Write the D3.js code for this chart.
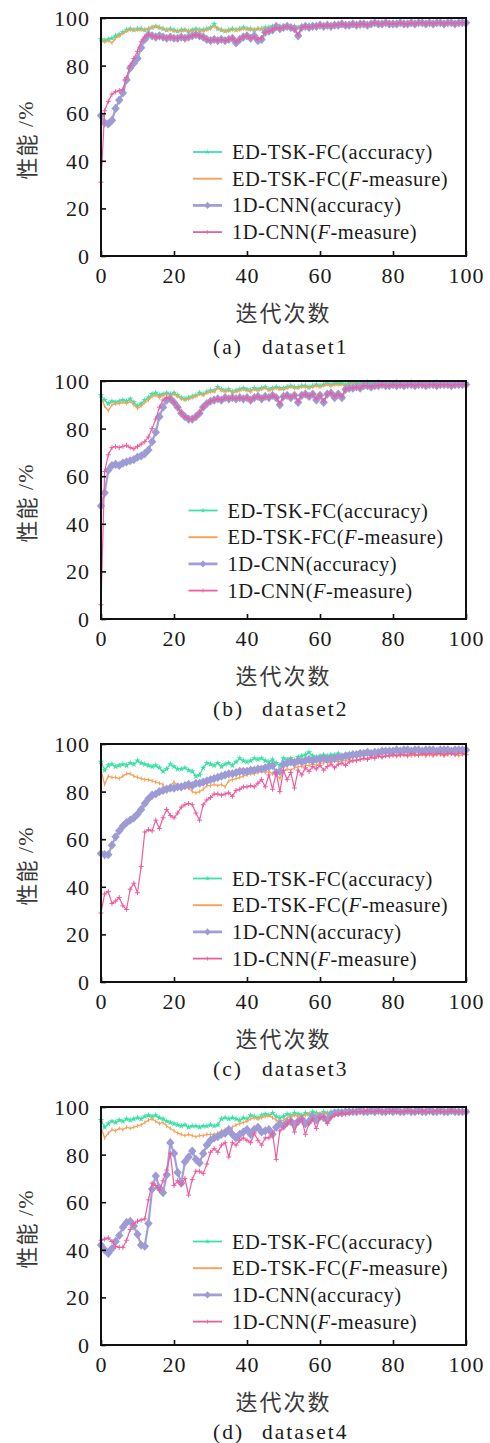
<!DOCTYPE html>
<html>
<head>
<meta charset="utf-8">
<script src="https://cdn.jsdelivr.net/npm/d3@7"></script>
<style>
body { margin: 0; background: #fff; }
svg { display: block; }
.tick line { stroke: #111; stroke-width: 1.6; }
.legend text { font-family: "Liberation Serif", "Times New Roman", serif; font-size: 20.5px; letter-spacing: 0.5px; fill: #1a1a1a; }
.cap { font-family: "Liberation Serif", "Times New Roman", serif; font-size: 21.5px; letter-spacing: 2px; fill: #1a1a1a; }
.cjk { font-family: "Noto Sans CJK SC", sans-serif; font-size: 22px; letter-spacing: 2px; fill: #3a3a3a; }
</style>
</head>
<body>
<div id="chart"></div>
<script>
// series names, ticks and captions
const seriesNames = ["ED-TSK-FC(accuracy)", "ED-TSK-FC(F-measure)", "1D-CNN(accuracy)", "1D-CNN(F-measure)"];
const xTicks = [0, 20, 40, 60, 80, 100];
const yTicks = [0, 20, 40, 60, 80, 100];
const captionTags = ["(a)", "(b)", "(c)", "(d)"];
const datasetNames = ["dataset1", "dataset2", "dataset3", "dataset4"];
const xLabel = "迭代次数";
const yLabel = "性能/%";

// dataset1 (iteration 0..100)
const d1TskAcc = [
91, 90.5, 91, 91.5, 92.5, 93, 94, 95, 95.5, 95,
95.5, 95.5, 95, 95.5, 96, 96.5, 96, 95.5, 95, 95.5,
95, 94.5, 95, 95, 94.5, 95, 95.5, 95, 95, 95.5,
96, 97.5, 95.5, 95, 94.5, 95, 95.5, 95, 95.5, 96,
95.5, 95.5, 95, 95.5, 95.5, 96, 96, 96.5, 96, 96.5,
96, 96.5, 96, 96.5, 96, 96.5, 96.5, 97, 96.5, 96.5,
97, 97, 96.5, 97, 97, 97.5, 97, 97, 97.5, 97,
97.5, 97.5, 97, 97.5, 97.5, 98, 97.5, 97.5, 98, 97.5,
97.5, 98, 97.5, 98, 97.5, 97.5, 98, 98, 97.5, 98,
97.5, 98, 98, 97.5, 98, 98, 98, 97.5, 98, 98,
97.5];
const d1TskF = [
90.5, 90, 90.5, 89.5, 91.5, 92.5, 93.5, 94.5, 95, 95,
95, 95, 95, 95.5, 96, 96.5, 96, 95.5, 95, 95,
94.5, 94.5, 94.5, 95, 94.5, 94.5, 95, 95, 94.5, 95,
95.5, 96.5, 95.5, 95, 94.5, 94.5, 95, 95, 95, 95.5,
95.5, 95, 95, 95.5, 95.5, 95.5, 96, 96, 96, 96.5,
96, 96, 96, 96.5, 96, 96.5, 96, 96.5, 96.5, 96.5,
97, 96.5, 96.5, 97, 97, 97, 97, 97, 97, 97,
97.5, 96, 97, 97.5, 97.5, 97.5, 97.5, 97.5, 97.5, 97,
97.5, 97.5, 97.5, 97.5, 97, 97.5, 97.5, 97.5, 97.5, 97.5,
97.5, 97.5, 97.5, 97.5, 97.5, 97.5, 98, 97.5, 97.5, 97.5,
97.5];
const d1CnnAcc = [
59, 56, 55.5, 57, 62, 65.5, 68.5, 74, 79, 81,
83, 87.5, 91, 93, 92.5, 92, 92.5, 92, 91.5, 92,
91.5, 91.5, 92, 91.5, 92, 92.5, 93, 92.5, 92, 91,
90.5, 91, 90.5, 91, 90.5, 91, 91.5, 89.5, 91, 92,
92.5, 91.5, 92.5, 90.5, 91, 94, 94.5, 95, 96.5, 95.5,
96, 96.5, 96, 95.5, 92.5, 96, 96.5, 96, 96.5, 96.5,
97, 96.5, 97, 96.5, 97, 97, 97.5, 97, 97, 97.5,
97, 97.5, 97.5, 97, 97.5, 98, 97.5, 97.5, 98, 97.5,
97.5, 97.5, 98, 97.5, 97.5, 98, 97.5, 98, 98, 97.5,
98, 97.5, 98, 98, 97.5, 98, 98, 97.5, 98, 98,
98];
const d1CnnF = [
31, 61, 65, 68, 69, 69.5, 70, 75, 80, 83,
86, 90, 92, 93, 92.5, 92, 92, 92, 91.5, 92,
91.5, 91.5, 92, 91.5, 92, 92.5, 93, 92.5, 92, 91,
90.5, 91, 90.5, 91, 90.5, 91, 91.5, 90, 91, 92,
92.5, 91.5, 92, 91, 91.5, 94, 94.5, 95, 96, 95.5,
96, 96.5, 96, 95.5, 93, 96, 96.5, 96, 96.5, 96.5,
97, 96.5, 97, 96.5, 97, 97, 97.5, 97, 97, 97.5,
97, 97.5, 97.5, 97, 97.5, 98, 97.5, 97.5, 98, 97.5,
97.5, 97.5, 98, 97.5, 97.5, 98, 97.5, 98, 98, 97.5,
98, 97.5, 98, 98, 97.5, 98, 98, 97.5, 98, 98,
98];

// dataset2
const d2TskAcc = [
94, 92, 90.5, 91.5, 91, 91.5, 92, 91.5, 92.5, 91,
89.5, 90.5, 92, 93, 94.5, 95, 94, 94.5, 95, 94.5,
95, 94, 93, 92.5, 93, 93.5, 94, 95, 94.5, 95.5,
96, 96, 97.5, 96.5, 96, 96.5, 95.5, 96, 96.5, 97,
96.5, 96, 97, 96.5, 97, 97.5, 96.5, 97, 97.5, 97,
97, 97.5, 98, 97.5, 97.5, 98, 98, 97.5, 98, 98.5,
98, 98.5, 99, 98.5, 99, 99, 99, 98.5, 99, 99,
99, 99, 99, 99.5, 99, 99, 99.5, 99, 99, 99,
99, 99.5, 99, 99, 99, 99.5, 99, 99, 99, 99,
99, 99, 99.5, 99, 99, 99, 99, 99, 99, 99,
99];
const d2TskF = [
93, 89.5, 87.5, 90, 90.5, 90.5, 91, 90.5, 91.5, 90,
88.5, 89.5, 91, 92, 93.5, 94, 93, 94, 94.5, 94,
94.5, 93.5, 92.5, 92, 92.5, 93, 93.5, 94.5, 94, 95,
95.5, 95.5, 97, 96, 95.5, 96, 95, 95.5, 96, 96.5,
96, 95.5, 96.5, 96, 96.5, 97, 96, 96.5, 97, 96.5,
96.5, 97, 97.5, 97, 97, 97.5, 97.5, 97, 97.5, 98,
97.5, 98, 98.5, 98, 98.5, 98.5, 98.5, 98, 98.5, 99,
98.5, 98.5, 99, 99, 98.5, 99, 99, 98.5, 99, 99,
98.5, 99, 99, 98.5, 99, 99, 98.5, 99, 99, 98.5,
99, 99, 99, 98.5, 99, 99, 98.5, 99, 99, 99,
99];
const d2CnnAcc = [
47.5, 53, 62.5, 64.5, 65, 64.5, 65.5, 66, 66.5, 67,
68, 68.5, 69.5, 71, 74.5, 78.5, 85, 89, 92, 92.5,
91, 89, 86.5, 85, 84, 84, 85, 86.5, 89, 90.5,
91.5, 92, 92.5, 92, 93, 92.5, 93, 92.5, 93, 92.5,
93, 92, 93, 93.5, 92.5, 93.5, 93, 94, 93, 90,
93.5, 94, 93, 94, 91, 94, 94.5, 93.5, 94.5, 92,
94, 91, 94.5, 95, 93, 94.5, 93, 96.5, 97, 97,
97.5, 97, 98, 98, 97.5, 98, 98, 98.5, 98, 98,
98.5, 98, 98.5, 98, 98.5, 98.5, 98, 98.5, 98.5, 98,
98.5, 98.5, 98, 98.5, 98.5, 98.5, 98, 98.5, 98.5, 98.5,
98.5];
const d2CnnF = [
6, 62, 69, 72, 72.5, 72, 72.5, 73, 72, 71.5,
72.5, 73.5, 74.5, 76.5, 80, 84, 89, 92, 93, 92.5,
91, 89, 86.5, 85, 84, 84, 85, 86.5, 89, 90.5,
91.5, 92, 92.5, 92, 93, 92.5, 93, 92.5, 93, 92.5,
93, 92, 93, 93.5, 92.5, 93.5, 93, 94, 93, 90.5,
93.5, 94, 93, 94, 91.5, 94, 94.5, 93.5, 94.5, 92.5,
94, 91.5, 94.5, 95, 93.5, 94.5, 93.5, 96.5, 97, 97,
97.5, 97, 98, 98, 97.5, 98, 98, 98.5, 98, 98,
98.5, 98, 98.5, 98, 98.5, 98.5, 98, 98.5, 98.5, 98,
98.5, 98.5, 98, 98.5, 98.5, 98.5, 98, 98.5, 98.5, 98.5,
98.5];

// dataset3
const d3TskAcc = [
92.5, 89, 91, 91.5, 90.5, 91, 91.5, 91, 92, 91.5,
93, 92, 91.5, 91, 90.5, 91, 90, 88.5, 89.5, 91.5,
90.5, 89.5, 89.5, 90, 89, 88.5, 86.5, 87, 90, 92,
91.5, 91, 92, 90.5, 91.5, 92, 91, 92.5, 94, 93,
92.5, 93, 94, 93.5, 94, 93, 92.5, 93.5, 92, 91,
94, 93.5, 94, 93, 94.5, 95, 95.5, 96.5, 95, 94.5,
95, 95.5, 95, 95.5, 95.5, 96, 95, 95.5, 96, 96,
96, 96.5, 96, 96, 96.5, 96.5, 97, 96.5, 97, 96.5,
97, 97, 97.5, 97, 97, 97.5, 97, 97.5, 97.5, 97,
97.5, 97.5, 97, 97.5, 97.5, 97, 97.5, 97.5, 97.5, 97.5,
97.5];
const d3TskF = [
89, 83, 86.5, 86, 86, 85.5, 86.5, 87.5, 87.5, 86.5,
86, 85.5, 85, 85, 84.5, 84, 83.5, 83, 80, 82.5,
84, 82.5, 81, 82, 81.5, 80, 79.5, 80, 81, 82.5,
82.5, 83, 82.5, 83, 82, 84.5, 85, 85.5, 86, 86.5,
87, 87.5, 87.5, 88, 88.5, 88, 88.5, 87.5, 87, 85.5,
88.5, 89.5, 89, 90, 90.5, 90.5, 91, 91, 91.5, 91,
92, 92, 92.5, 92, 93, 92.5, 93, 93, 93.5, 93,
93.5, 93.5, 94, 94, 94.5, 94.5, 95, 94.5, 95, 95,
95, 95.5, 95, 95.5, 95.5, 95, 95.5, 95, 95.5, 95,
95.5, 95, 95.5, 95.5, 95, 95.5, 96, 95.5, 95, 95.5,
95.5];
const d3CnnAcc = [
54, 53.5, 53.5, 57.5, 61, 63.5, 65.5, 67, 68, 69,
70.5, 72.5, 75, 77, 78.5, 79, 80, 80.5, 81, 81.5,
81.5, 82, 82, 82.5, 83, 82.5, 83.5, 83.5, 84, 84.5,
85, 85.5, 86, 86.5, 87, 87.5, 87.5, 88, 88.5, 88.5,
88.5, 89, 89, 89.5, 89.5, 90, 90.5, 91, 88, 88.5,
91.5, 92, 92.5, 92, 93, 92.5, 93, 93.5, 93, 93.5,
93.5, 94, 93.5, 94, 94, 94.5, 94.5, 95, 95, 95.5,
95.5, 96, 96, 96.5, 96, 96.5, 96.5, 97, 97, 97,
97, 97.5, 97, 97.5, 97.5, 97, 97.5, 97.5, 97, 97.5,
97.5, 97.5, 97, 97.5, 97.5, 97.5, 97, 97.5, 97.5, 97.5,
97.5];
const d3CnnF = [
29, 37, 38, 33, 34, 35.5, 32, 30.5, 39, 41.5,
37.5, 48.5, 63, 64, 63.5, 68, 64.5, 69, 72.5, 70,
69, 71, 73.5, 74.5, 75, 74.5, 71, 68, 74.5, 76.5,
77.5, 79, 79, 78.5, 79, 79.5, 78, 80.5, 81, 82,
82, 82.5, 82, 83.5, 85, 82, 87, 81, 88, 80,
89, 85, 88, 81.5, 89, 87, 90, 88.5, 90.5, 89.5,
91, 89, 90.5, 91.5, 90, 91.5, 92, 91, 92.5, 93,
93, 93.5, 94, 93.5, 94.5, 94, 95, 94.5, 95, 95,
95.5, 95, 95.5, 95.5, 95, 96, 95.5, 95.5, 96, 95.5,
96, 95.5, 96, 96, 95.5, 96, 96, 95.5, 96, 96,
95.5];

// dataset4
const d4TskAcc = [
94.5, 91.5, 93, 94, 93.5, 94.5, 94, 95, 94.5, 95,
95.5, 95, 96, 96.5, 96, 96.5, 95.5, 95, 94, 93.5,
93, 92.5, 92, 92.5, 91.5, 92, 92, 91.5, 92, 92,
92.5, 92, 92.5, 95, 95.5, 95, 95.5, 95, 94.5, 95.5,
95, 96.5, 96, 95.5, 96.5, 97, 96.5, 97.5, 96, 95.5,
96, 97, 96.5, 97.5, 97, 96.5, 97.5, 97, 98, 97.5,
97, 98, 97.5, 98, 98, 98.5, 98, 98, 98.5, 98,
98.5, 98, 98.5, 98.5, 98, 98.5, 98.5, 98.5, 98, 98.5,
98.5, 98.5, 98.5, 98, 98.5, 98.5, 98.5, 98.5, 98.5, 98,
98.5, 98.5, 98.5, 98.5, 98.5, 98, 98.5, 98.5, 98.5, 98.5,
98.5];
const d4TskF = [
91.5, 87, 89, 90.5, 90, 91, 90.5, 91.5, 91, 91.5,
92, 92.5, 93.5, 94.5, 95, 94, 93, 93.5, 92, 91,
90, 89, 88.5, 88, 88.5, 88, 87.5, 88, 88, 88.5,
88.5, 88.5, 89, 90, 90.5, 91, 91.5, 92.5, 93, 93.5,
94, 95, 95.5, 95, 95.5, 96, 96.5, 95.5, 94.5, 94,
94.5, 95.5, 96, 96.5, 96, 96.5, 96.5, 97, 96.5, 97,
97, 97.5, 97, 97.5, 97.5, 98, 97.5, 98, 98, 98,
98, 98, 98, 98, 98.5, 98, 98, 98, 98.5, 98,
98, 98, 98.5, 98, 98, 98, 98.5, 98, 98, 98,
98, 98.5, 98, 98, 98, 98, 98.5, 98, 98, 98,
98];
const d4CnnAcc = [
42, 40, 38.5, 40.5, 43.5, 46, 49.5, 51.5, 52, 50,
46.5, 42, 41.5, 51, 65.5, 71, 66, 64, 71.5, 85,
80.5, 72.5, 68, 77, 79, 81.5, 78, 76.5, 80.5, 84,
86, 87, 87.5, 88.5, 89, 90.5, 88.5, 87, 88.5, 89.5,
90.5, 88.5, 90.5, 91.5, 89.5, 90, 90.5, 88.5, 91.5, 93,
92, 93.5, 94, 92.5, 94, 95, 93, 94, 96, 94.5,
96, 95.5, 94.5, 96.5, 97.5, 97.5, 97.5, 98, 98, 98,
98, 98.5, 98, 98, 98.5, 98, 98.5, 98, 98, 98.5,
98, 98.5, 98, 98, 98.5, 98, 98, 98.5, 98, 98,
98.5, 98, 98, 98.5, 98, 98, 98.5, 98, 98, 98,
98];
const d4CnnF = [
44, 44.5, 45, 43.5, 41.5, 41, 41, 44, 48.5, 51,
52, 52.5, 53, 61, 68, 67, 65, 69, 73.5, 80.5,
67, 69, 67.5, 70, 63, 69.5, 73, 73, 72, 76,
81, 82.5, 81, 84, 85, 79, 85, 84, 86, 87,
86, 85, 89, 86, 84, 87, 87, 89, 78, 90,
91.5, 93, 94.5, 89.5, 94, 95, 88.5, 93, 95, 91,
95.5, 96, 93, 95.5, 96.5, 97, 97.5, 97, 97.5, 98,
98, 98, 98, 98.5, 98, 98, 98.5, 98, 98, 98,
98.5, 98, 98, 98, 98.5, 98, 98, 98, 98.5, 98,
98, 98, 98.5, 98, 98, 98, 98.5, 98, 98, 98,
98];

const datasets = [
  [d1TskAcc, d1TskF, d1CnnAcc, d1CnnF],
  [d2TskAcc, d2TskF, d2CnnAcc, d2CnnF],
  [d3TskAcc, d3TskF, d3CnnAcc, d3CnnF],
  [d4TskAcc, d4TskF, d4CnnAcc, d4CnnF]
];

// layout of each sub-figure
const layout = [
  {top: 18,   legX: 193,   legY: 134,   capY: 91},
  {top: 381,  legX: 188.5, legY: 129.5, capY: 89.5},
  {top: 744,  legX: 193,   legY: 134.5, capY: 86.5},
  {top: 1107, legX: 193,   legY: 134.5, capY: 87}
];

const styles = [
  {color: "#3fe0a5", width: 1.2, marker: "star"},
  {color: "#f6a15a", width: 1.3, marker: "tick"},
  {color: "#a29fd8", width: 2.2, marker: "diamond"},
  {color: "#ea5fa0", width: 1.2, marker: "plus"}
];

const serif = "'Liberation Serif', 'Times New Roman', serif";
const W = 490, H = 1443;
const left = 101, right = 466, plotH = 238;

const svg = d3.select("#chart").append("svg")
    .attr("width", W)
    .attr("height", H);

const x = d3.scaleLinear().domain([0, 100]).range([left, right]);

const starPath = d3.symbol().type(d3.symbolStar).size(13)();
const diamondPath = "M0,-4.6L4.2,0L0,4.6L-4.2,0Z";

function drawMarkers(g, pts, st, scale) {
    const s = scale || 1;
    const m = g.selectAll(null).data(pts).enter();
    if (st.marker === "star") {
        m.append("path").attr("d", starPath)
            .attr("transform", d => `translate(${d[0]},${d[1]}) scale(${s})`)
            .attr("fill", st.color);
    } else if (st.marker === "diamond") {
        m.append("path").attr("d", diamondPath)
            .attr("transform", d => `translate(${d[0]},${d[1]}) scale(${s})`)
            .attr("fill", "#9e9ad4");
    } else if (st.marker === "plus") {
        m.append("path").attr("d", "M-2.5,0H2.5M0,-2.5V2.5")
            .attr("transform", d => `translate(${d[0]},${d[1]}) scale(${s})`)
            .attr("stroke", st.color).attr("stroke-width", 1).attr("fill", "none");
    } else if (st.marker === "tick") {
        m.append("path").attr("d", "M0,-2V2")
            .attr("transform", d => `translate(${d[0]},${d[1]}) scale(${s})`)
            .attr("stroke", st.color).attr("stroke-width", 1).attr("fill", "none");
    }
}

datasets.forEach((series, p) => {
    const L = layout[p];
    const top = L.top, bottom = L.top + plotH;
    const y = d3.scaleLinear().domain([0, 100]).range([bottom, top]);
    const g = svg.append("g");

    // series
    series.forEach((vals, k) => {
        const st = styles[k];
        const pts = vals.map((v, i) => [x(i), y(v)]);
        g.append("path")
            .datum(vals)
            .attr("fill", "none")
            .attr("stroke", st.color)
            .attr("stroke-width", st.width)
            .attr("stroke-linejoin", "round")
            .attr("d", d3.line().x((d, i) => x(i)).y(d => y(d)));
        drawMarkers(g.append("g"), pts, st);
    });

    // axes
    g.append("g")
        .attr("transform", `translate(0,${bottom})`)
        .call(d3.axisBottom(x).tickValues(xTicks).tickSize(-5).tickFormat(d3.format("d")))
        .attr("font-family", serif).attr("font-size", 22)
        .call(a => a.select(".domain").remove())
        .call(a => a.selectAll("text")
            .attr("y", 19).attr("dy", null)
            .attr("dominant-baseline", "central")
            .style("font-family", serif).style("letter-spacing", "1px")
            .attr("fill", "#1a1a1a"));

    g.append("g")
        .attr("transform", `translate(${left},0)`)
        .call(d3.axisLeft(y).tickValues(yTicks).tickSize(-5).tickFormat(d3.format("d")))
        .attr("font-family", serif).attr("font-size", 22)
        .call(a => a.select(".domain").remove())
        .call(a => a.selectAll("text")
            .attr("x", -11).attr("dy", null)
            .attr("dominant-baseline", "central")
            .style("font-family", serif).style("letter-spacing", "1px")
            .attr("fill", "#1a1a1a"));

    g.append("rect")
        .attr("x", left).attr("y", top)
        .attr("width", right - left).attr("height", plotH)
        .attr("fill", "none").attr("stroke", "#111").attr("stroke-width", 2);

    // legend
    const lg = g.append("g").attr("class", "legend");
    seriesNames.forEach((name, k) => {
        const st = styles[k];
        const ly = top + L.legY + k * 26.7;
        lg.append("line")
            .attr("x1", L.legX).attr("x2", L.legX + 29)
            .attr("y1", ly).attr("y2", ly)
            .attr("stroke", st.color).attr("stroke-width", st.width + 0.6);
        if (st.marker !== "tick") drawMarkers(lg.append("g"), [[L.legX + 14.5, ly]], st, 0.8);
        const t = lg.append("text")
            .attr("x", L.legX + 39).attr("y", ly)
            .attr("dominant-baseline", "central");
        const parts = name.split("F-measure");
        if (parts.length > 1) {
            t.append("tspan").text(parts[0]);
            t.append("tspan").attr("font-style", "italic").text("F");
            t.append("tspan").text("-measure" + parts[1]);
        } else {
            t.text(name);
        }
    });

    // axis titles
    g.append("text")
        .attr("class", "cjk")
        .attr("x", (left + right) / 2).attr("y", bottom + 55)
        .attr("text-anchor", "middle")
        .attr("dominant-baseline", "central")
        .text(xLabel);

    const yl = g.append("text")
        .attr("class", "cjk")
        .attr("transform", `translate(25,${top + 122}) rotate(-90)`)
        .attr("text-anchor", "middle")
        .attr("dominant-baseline", "central")
        .style("letter-spacing", "1px");
    yl.append("tspan").text(yLabel.slice(0, 2));
    yl.append("tspan")
        .style("font-family", serif)
        .text(" " + yLabel.slice(2));

    // caption
    g.append("text").attr("class", "cap")
        .attr("x", 213).attr("y", top + L.capY + plotH)
        .attr("dominant-baseline", "central")
        .text(captionTags[p]);
    g.append("text").attr("class", "cap")
        .attr("x", 262).attr("y", top + L.capY + plotH)
        .attr("dominant-baseline", "central")
        .text(datasetNames[p]);
});
</script>
</body>
</html>
